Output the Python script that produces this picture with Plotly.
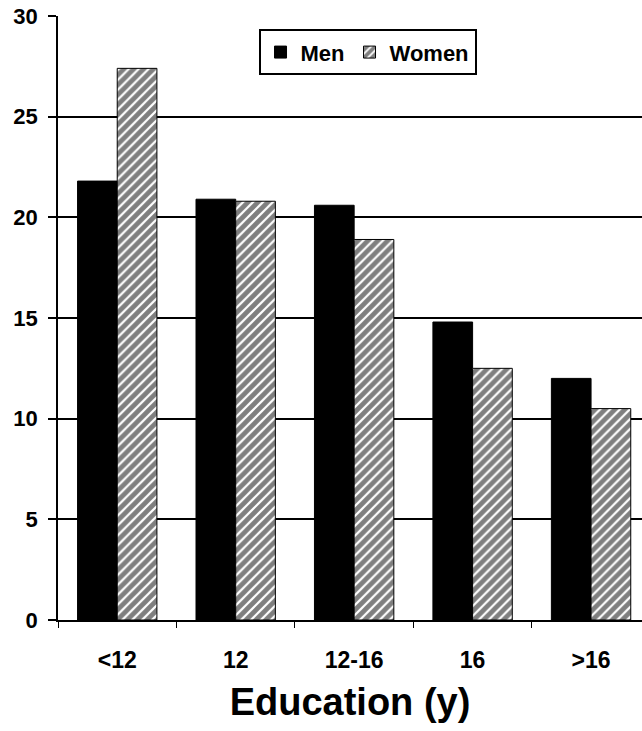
import plotly.graph_objects as go

categories = ["<12", "12", "12-16", "16", ">16"]
men = [21.8, 20.9, 20.6, 14.8, 12.0]
women = [27.4, 20.8, 18.9, 12.5, 10.5]
y_ticks = [0, 5, 10, 15, 20, 25, 30]

FONT = "Arial, Liberation Sans, sans-serif"

fig = go.Figure()
fig.add_trace(go.Bar(
    x=categories, y=men, name="<b>Men</b>",
    marker=dict(color="black", line=dict(color="black", width=1)),
))
fig.add_trace(go.Bar(
    x=categories, y=women, name="<b>Women</b>",
    marker=dict(color="white", line=dict(color="black", width=1),
                pattern=dict(shape="/", fgcolor="black", bgcolor="white",
                             size=7, solidity=0.68)),
))

fig.update_layout(
    width=642, height=731,
    margin=dict(l=58, r=0, t=16, b=111, autoexpand=False),
    paper_bgcolor="white", plot_bgcolor="white",
    barmode="group", bargap=0.33, bargroupgap=0,
    font=dict(family=FONT, color="black"),
    showlegend=True,
    legend=dict(
        orientation="h", x=0.53, y=0.978, xanchor="center", yanchor="top",
        bordercolor="black", borderwidth=2, bgcolor="white",
        font=dict(size=22, family=FONT),
        itemwidth=30, tracegroupgap=0,
    ),
    xaxis=dict(
        type="category", range=[-0.5, 4.43], automargin=False,
        tickvals=categories, ticktext=[f"<b>{c}</b>" for c in categories],
        tickson="boundaries", ticks="outside", ticklen=6, tickcolor="black",
        showline=True, linecolor="black", linewidth=1.5,
        ticklabelstandoff=19, ticklabeloverflow="allow",
        tickfont=dict(size=23, family=FONT),
        title=dict(text="<b>Education (y)</b>", font=dict(size=38, family=FONT),
                   standoff=16),
        showgrid=False,
    ),
    yaxis=dict(
        range=[0, 30], tickvals=y_ticks, ticktext=[f"<b>{v}</b>" for v in y_ticks],
        automargin=False, ticklabeloverflow="allow",
        ticks="outside", ticklen=8, tickcolor="black", tickwidth=1.5,
        showline=True, linecolor="black", linewidth=1.5,
        showgrid=True, gridcolor="black", gridwidth=1.5,
        zeroline=False, ticklabelstandoff=6,
        tickfont=dict(size=22, family=FONT),
    ),
)

fig.write_html("out.html", config={"displayModeBar": False},
               post_script="document.body.style.margin='0';")
